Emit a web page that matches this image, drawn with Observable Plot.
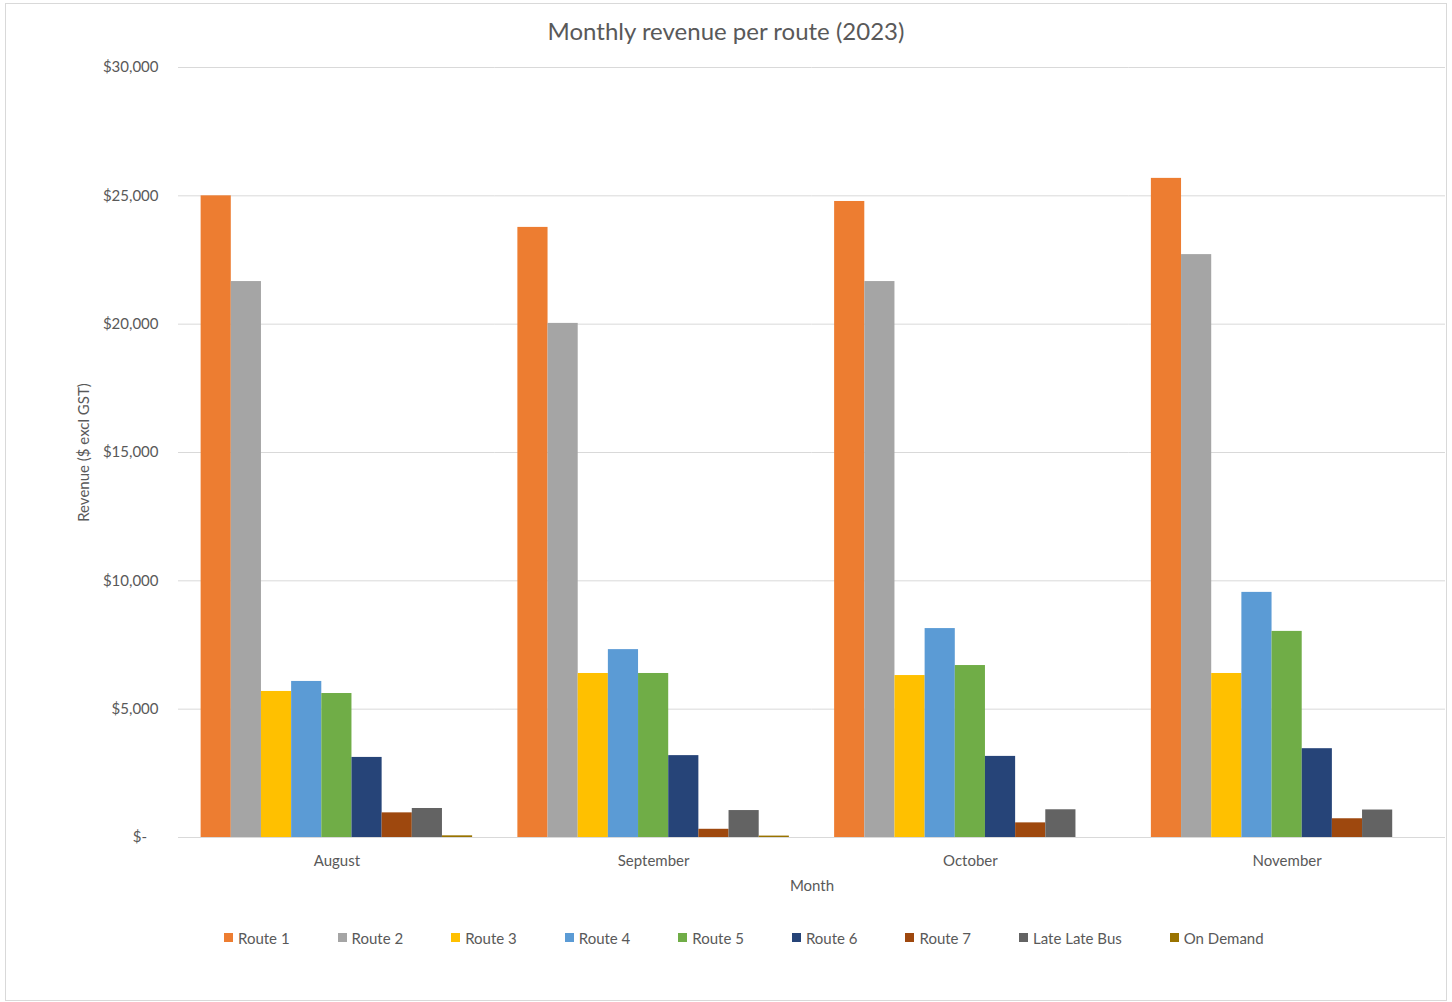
<!DOCTYPE html>
<html><head><meta charset="utf-8">
<script src="https://cdn.jsdelivr.net/npm/d3@7"></script>
<script src="https://cdn.jsdelivr.net/npm/@observablehq/plot@0.6"></script>
<style>
body{margin:0;background:#fff;font-family:Lato,"Open Sans",sans-serif;}
#frame{position:absolute;left:5px;top:3px;width:1442px;height:998px;border:1px solid #d9d9d9;box-sizing:border-box;pointer-events:none}
#title{height:50px;box-sizing:border-box;padding-top:17px;line-height:28px;text-align:center;font-size:24px;color:#595959}
#legend{display:flex;padding-left:224px;padding-top:3px;height:72px;box-sizing:border-box;line-height:20px;font-size:15px;color:#595959}
.item{display:flex;align-items:center;margin-right:48px}
.sw{width:9px;height:9px;margin-right:5px}
</style></head><body>
<div id="frame"></div>
<div id="title">Monthly revenue per route (2023)</div>
<div id="chart"></div>
<div id="legend"></div>
<script>
const months = ["August", "September", "October", "November"];
const routes = ["Route 1", "Route 2", "Route 3", "Route 4", "Route 5", "Route 6", "Route 7", "Late Late Bus", "On Demand"];
const route1 = [25000, 23770, 24780, 25680];
const route2 = [21660, 20030, 21660, 22710];
const route3 = [5690, 6390, 6310, 6390];
const route4 = [6080, 7320, 8140, 9550];
const route5 = [5610, 6390, 6700, 8030];
const route6 = [3120, 3190, 3160, 3460];
const route7 = [960, 320, 570, 730];
const lateLateBus = [1130, 1050, 1080, 1070];
const onDemand = [65, 55, 0, 0];
const yTicks = [0, 5000, 10000, 15000, 20000, 25000, 30000];
const colors = ["#ED7D31", "#A5A5A5", "#FFC000", "#5B9BD5", "#70AD47", "#264478", "#9E480E", "#636363", "#997300"];

const series = [route1, route2, route3, route4, route5, route6, route7, lateLateBus, onDemand];
const data = [];
months.forEach((m, i) => routes.forEach((r, j) => data.push({month: m, route: r, value: series[j][i]})));

const fmt = d => d === 0 ? "$-\u00a0\u00a0\u00a0" : "$" + d3.format(",")(d);

const chart = Plot.plot({
  width: 1452, height: 850,
  marginTop: 17, marginBottom: 63, marginLeft: 178, marginRight: 7,
  style: {fontFamily: "Lato, 'Open Sans', sans-serif", fontSize: "15px", color: "#595959", background: "white"},
  fx: {domain: months, padding: 0, round: false, label: null},
  x: {domain: routes, axis: null, paddingInner: 0, paddingOuter: 0.75, round: false},
  y: {domain: [0, 30000], label: null},
  color: {domain: routes, range: colors},
  marks: [
    Plot.gridY(yTicks, {stroke: "#d9d9d9", strokeOpacity: 1}),
    Plot.ruleY([0], {stroke: "#d9d9d9"}),
    Plot.barY(data, {fx: "month", x: "route", y: "value", fill: "route", inset: 0}),
    Plot.axisY(yTicks, {tickSize: 0, tickPadding: 20, tickFormat: fmt, label: "Revenue ($ excl GST)", labelArrow: "none", labelAnchor: "center", labelOffset: 100}),
    Plot.axisFx({anchor: "bottom", tickSize: 0, tickPadding: 18, label: "Month", labelArrow: "none", labelAnchor: "center", labelOffset: 53})
  ]
});
document.getElementById("chart").append(chart);

const legend = d3.select("#legend");
routes.forEach((r, j) => {
  const it = legend.append("div").attr("class", "item");
  it.append("div").attr("class", "sw").style("background", colors[j]);
  it.append("span").text(r);
});
</script>
</body></html>
